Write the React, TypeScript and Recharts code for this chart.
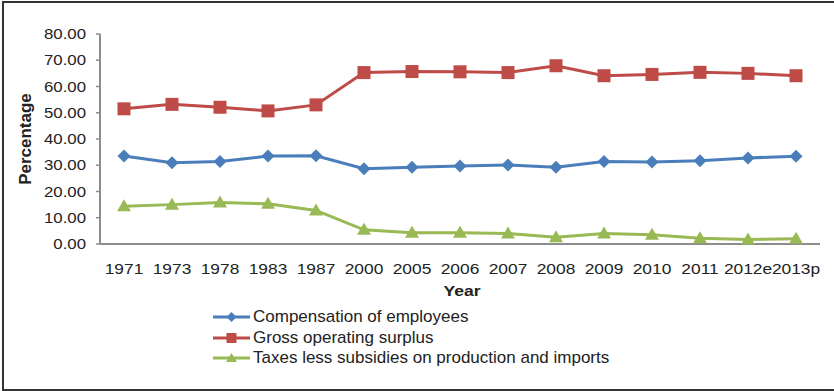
import React from 'react';
import { LineChart, Line, XAxis, YAxis, Legend } from 'recharts';

const years = ['1971', '1973', '1978', '1983', '1987', '2000', '2005', '2006', '2007', '2008', '2009', '2010', '2011', '2012e', '2013p'];
const compensation = [33.5, 31.0, 31.4, 33.5, 33.6, 28.7, 29.2, 29.7, 30.1, 29.2, 31.4, 31.2, 31.7, 32.8, 33.4];
const grossSurplus = [51.5, 53.2, 52.1, 50.7, 53.0, 65.3, 65.7, 65.6, 65.3, 67.9, 64.1, 64.6, 65.4, 65.0, 64.1];
const taxes = [14.4, 15.0, 15.8, 15.3, 12.8, 5.4, 4.3, 4.3, 4.0, 2.6, 4.0, 3.5, 2.2, 1.7, 2.0];
const yTicks = [0, 10, 20, 30, 40, 50, 60, 70, 80];

const seriesNames = [
  'Compensation of employees',
  'Gross operating surplus',
  'Taxes less subsidies on production and imports',
];
const colors = ['#4A7EBB', '#BE4B48', '#98B954'];

const data = years.map((year, i) => ({
  year,
  comp: compensation[i],
  gos: grossSurplus[i],
  tax: taxes[i],
}));

const FONT = '"Liberation Sans", Arial, sans-serif';
const TEXT = '#222222';

const Diamond = (props: any) => {
  const { cx, cy } = props;
  if (cx == null || cy == null) return null;
  const r = 6.5;
  return (
    <polygon
      key={props.key ?? `d-${props.index}`}
      points={`${cx},${cy - r} ${cx + r},${cy} ${cx},${cy + r} ${cx - r},${cy}`}
      fill={colors[0]}
    />
  );
};

const Square = (props: any) => {
  const { cx, cy } = props;
  if (cx == null || cy == null) return null;
  const s = 13;
  return <rect key={props.key ?? `s-${props.index}`} x={cx - s / 2} y={cy - s / 2} width={s} height={s} fill={colors[1]} />;
};

const Triangle = (props: any) => {
  const { cx, cy } = props;
  if (cx == null || cy == null) return null;
  return (
    <polygon
      key={props.key ?? `t-${props.index}`}
      points={`${cx},${cy - 7} ${cx + 7},${cy + 5} ${cx - 7},${cy + 5}`}
      fill={colors[2]}
    />
  );
};

const XTick = (props: any) => {
  const { x, y, payload } = props;
  return (
    <text
      transform={`translate(${x},${y}) scale(1.12,1)`}
      dy="0.71em"
      textAnchor="middle"
      fontSize={15.5}
      fill={TEXT}
      fontFamily={FONT}
    >
      {payload.value}
    </text>
  );
};

const YTick = (props: any) => {
  const { x, y, payload } = props;
  return (
    <text
      transform={`translate(${x},${y}) scale(1.2,1)`}
      dy="0.36em"
      textAnchor="end"
      fontSize={14}
      fill={TEXT}
      fontFamily={FONT}
    >
      {Number(payload.value).toFixed(2)}
    </text>
  );
};

const legendIcon = (i: number) => {
  const c = colors[i];
  const mid = 18.5;
  const cy = 10;
  let marker: React.ReactNode = null;
  if (i === 0) marker = <polygon points={`${mid},${cy - 5} ${mid + 5},${cy} ${mid},${cy + 5} ${mid - 5},${cy}`} fill={c} />;
  if (i === 1) marker = <rect x={mid - 5} y={cy - 5} width={10} height={10} fill={c} />;
  if (i === 2) marker = <polygon points={`${mid},${cy - 5} ${mid + 5.5},${cy + 4} ${mid - 5.5},${cy + 4}`} fill={c} />;
  return (
    <svg width={40} height={20} style={{ display: 'block', flex: 'none' }}>
      <line x1={0} y1={cy} x2={37} y2={cy} stroke={c} strokeWidth={3} />
      {marker}
    </svg>
  );
};

const renderLegend = () => (
  <div style={{ fontFamily: FONT, fontSize: 17, color: TEXT }}>
    {seriesNames.map((name, i) => (
      <div key={name} style={{ display: 'flex', alignItems: 'center', height: 20.6, whiteSpace: 'nowrap' }}>
        {legendIcon(i)}
        <span>{name}</span>
      </div>
    ))}
  </div>
);

const YLabel = (props: any) => {
  const vb = props.viewBox || { x: 0, y: 34, width: 100, height: 210 };
  const cx = vb.x + 25;
  const cy = vb.y + vb.height / 2;
  return (
    <text
      x={cx}
      y={cy}
      transform={`rotate(-90, ${cx}, ${cy})`}
      textAnchor="middle"
      dy="0.36em"
      fontSize={17}
      fontWeight="bold"
      fill={TEXT}
      fontFamily={FONT}
    >
      Percentage
    </text>
  );
};

const XLabel = (props: any) => {
  const vb = props.viewBox || { x: 100, y: 244, width: 720, height: 50 };
  const cx = vb.x + vb.width / 2 + 2;
  const by = vb.y + 51.7;
  return (
    <text
      transform={`translate(${cx},${by}) scale(1.17,1)`}
      textAnchor="middle"
      fontSize={15}
      fontWeight="bold"
      fill={TEXT}
      fontFamily={FONT}
    >
      Year
    </text>
  );
};

export default function App() {
  return (
    <div style={{ position: 'absolute', left: 0, top: 0, width: 834, height: 391, background: '#fff', overflow: 'hidden' }}>
      <div
        style={{
          position: 'absolute',
          left: 2,
          top: 1,
          width: 850,
          height: 386,
          borderLeft: '2px solid #333',
          borderTop: '2px solid #333',
          borderBottom: '2px solid #333',
        }}
      />
      <div style={{ position: 'absolute', left: 0, top: 0 }}>
        <LineChart width={834} height={391} data={data} margin={{ top: 34, right: 14, left: 0, bottom: 97 }}>
          <XAxis
            dataKey="year"
            height={50}
            padding={{ left: 24, right: 24 }}
            tickLine={false}
            tickSize={6}
            tickMargin={13}
            axisLine={{ stroke: '#8C8C8C', strokeWidth: 2 }}
            tick={<XTick />}
            interval={0}
            label={<XLabel />}
          />
          <YAxis
            width={100}
            domain={[0, 80]}
            ticks={yTicks}
            interval={0}
            tickSize={4}
            tickMargin={10}
            tickLine={{ stroke: '#8C8C8C', strokeWidth: 1.5 }}
            axisLine={{ stroke: '#8C8C8C', strokeWidth: 2 }}
            tick={<YTick />}
            label={<YLabel />}
          />
          <Legend
            layout="vertical"
            verticalAlign="middle"
            align="center"
            wrapperStyle={{ top: 307, left: 213, width: 500 }}
            content={renderLegend}
          />
          <Line
            dataKey="comp"
            name={seriesNames[0]}
            stroke={colors[0]}
            strokeWidth={3}
            dot={Diamond}
            activeDot={false}
            isAnimationActive={false}
          />
          <Line
            dataKey="gos"
            name={seriesNames[1]}
            stroke={colors[1]}
            strokeWidth={3}
            dot={Square}
            activeDot={false}
            isAnimationActive={false}
          />
          <Line
            dataKey="tax"
            name={seriesNames[2]}
            stroke={colors[2]}
            strokeWidth={3}
            dot={Triangle}
            activeDot={false}
            isAnimationActive={false}
          />
        </LineChart>
      </div>
    </div>
  );
}
